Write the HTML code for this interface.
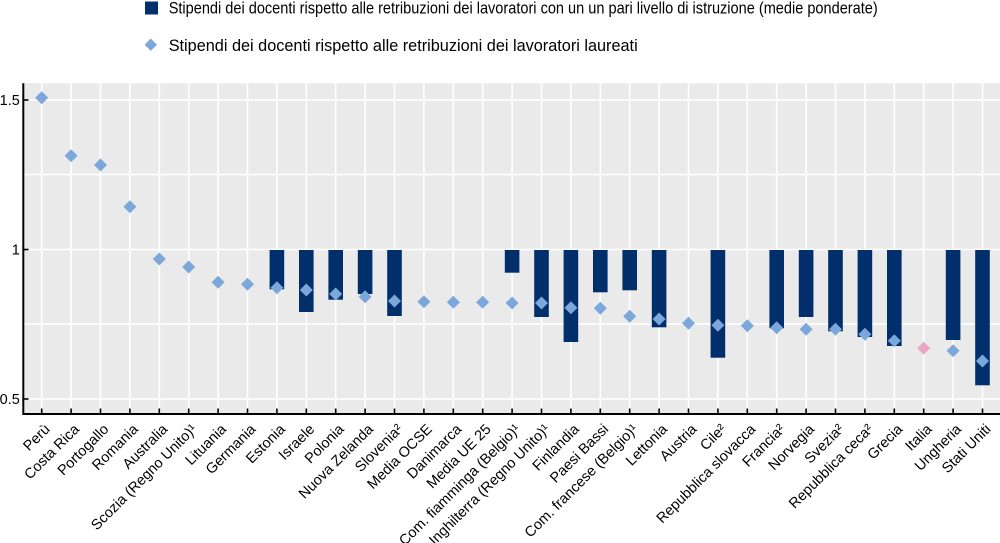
<!DOCTYPE html>
<html>
<head>
<meta charset="utf-8">
<style>
html,body{margin:0;padding:0;background:#fff;}
svg{display:block;}
text{font-family:"Liberation Sans",Arial,sans-serif;fill:#000;}
</style>
</head>
<body>
<svg width="1000" height="543" viewBox="0 0 1000 543" xmlns="http://www.w3.org/2000/svg">
<!-- Legend -->
<rect x="145" y="1.5" width="13" height="13" fill="#002F6C"/>
<text x="168.7" y="13.5" font-size="16.3" textLength="709" lengthAdjust="spacingAndGlyphs">Stipendi dei docenti rispetto alle retribuzioni dei lavoratori con un un pari livello di istruzione (medie ponderate)</text>
<polygon points="150.8,38.5 157,44.7 150.8,50.9 144.6,44.7" fill="#7BA7DB"/>
<text x="168.7" y="51" font-size="16.3" textLength="469" lengthAdjust="spacingAndGlyphs">Stipendi dei docenti rispetto alle retribuzioni dei lavoratori laureati</text>

<!-- Plot background -->
<rect x="24" y="83.3" width="976" height="330" fill="#EAEAEA"/>

<!-- Horizontal gridlines -->
<g stroke="#FFFFFF" stroke-width="1.6">
<line x1="24" y1="100" x2="1000" y2="100"/>
<line x1="24" y1="174.5" x2="1000" y2="174.5"/>
<line x1="24" y1="249.5" x2="1000" y2="249.5"/>
<line x1="24" y1="324" x2="1000" y2="324"/>
<line x1="24" y1="399" x2="1000" y2="399"/>
</g>
<!-- Vertical gridlines -->
<g stroke="#FFFFFF" stroke-width="1.6">
<line x1="41.7" y1="83.3" x2="41.7" y2="413"/>
<line x1="71.1" y1="83.3" x2="71.1" y2="413"/>
<line x1="100.5" y1="83.3" x2="100.5" y2="413"/>
<line x1="129.9" y1="83.3" x2="129.9" y2="413"/>
<line x1="159.3" y1="83.3" x2="159.3" y2="413"/>
<line x1="188.7" y1="83.3" x2="188.7" y2="413"/>
<line x1="218.1" y1="83.3" x2="218.1" y2="413"/>
<line x1="247.5" y1="83.3" x2="247.5" y2="413"/>
<line x1="276.9" y1="83.3" x2="276.9" y2="413"/>
<line x1="306.3" y1="83.3" x2="306.3" y2="413"/>
<line x1="335.7" y1="83.3" x2="335.7" y2="413"/>
<line x1="365.1" y1="83.3" x2="365.1" y2="413"/>
<line x1="394.5" y1="83.3" x2="394.5" y2="413"/>
<line x1="423.9" y1="83.3" x2="423.9" y2="413"/>
<line x1="453.3" y1="83.3" x2="453.3" y2="413"/>
<line x1="482.7" y1="83.3" x2="482.7" y2="413"/>
<line x1="512.1" y1="83.3" x2="512.1" y2="413"/>
<line x1="541.5" y1="83.3" x2="541.5" y2="413"/>
<line x1="570.9" y1="83.3" x2="570.9" y2="413"/>
<line x1="600.3" y1="83.3" x2="600.3" y2="413"/>
<line x1="629.7" y1="83.3" x2="629.7" y2="413"/>
<line x1="659.1" y1="83.3" x2="659.1" y2="413"/>
<line x1="688.5" y1="83.3" x2="688.5" y2="413"/>
<line x1="717.9" y1="83.3" x2="717.9" y2="413"/>
<line x1="747.3" y1="83.3" x2="747.3" y2="413"/>
<line x1="776.7" y1="83.3" x2="776.7" y2="413"/>
<line x1="806.1" y1="83.3" x2="806.1" y2="413"/>
<line x1="835.5" y1="83.3" x2="835.5" y2="413"/>
<line x1="864.9" y1="83.3" x2="864.9" y2="413"/>
<line x1="894.3" y1="83.3" x2="894.3" y2="413"/>
<line x1="923.7" y1="83.3" x2="923.7" y2="413"/>
<line x1="953.1" y1="83.3" x2="953.1" y2="413"/>
<line x1="982.5" y1="83.3" x2="982.5" y2="413"/>
</g>

<!-- Bars -->
<g fill="#002F6C">
<rect x="269.6" y="250" width="14.6" height="39.3"/>
<rect x="299.0" y="250" width="14.6" height="62"/>
<rect x="328.4" y="250" width="14.6" height="49.7"/>
<rect x="357.8" y="250" width="14.6" height="44"/>
<rect x="387.2" y="250" width="14.6" height="66"/>
<rect x="504.8" y="250" width="14.6" height="22.7"/>
<rect x="534.2" y="250" width="14.6" height="67"/>
<rect x="563.6" y="250" width="14.6" height="92"/>
<rect x="593.0" y="250" width="14.6" height="42.3"/>
<rect x="622.4" y="250" width="14.6" height="40.3"/>
<rect x="651.8" y="250" width="14.6" height="77.3"/>
<rect x="710.6" y="250" width="14.6" height="107.7"/>
<rect x="769.4" y="250" width="14.6" height="78.3"/>
<rect x="798.8" y="250" width="14.6" height="67"/>
<rect x="828.2" y="250" width="14.6" height="81.3"/>
<rect x="857.6" y="250" width="14.6" height="87"/>
<rect x="887.0" y="250" width="14.6" height="96"/>
<rect x="945.8" y="250" width="14.6" height="90"/>
<rect x="975.2" y="250" width="14.6" height="135.3"/>
</g>

<!-- Diamonds -->
<g fill="#7BA7DB">
<polygon points="41.7,91.2 48.2,97.7 41.7,104.2 35.2,97.7"/>
<polygon points="71.1,149.2 77.6,155.7 71.1,162.2 64.6,155.7"/>
<polygon points="100.5,158.5 107,165 100.5,171.5 94,165"/>
<polygon points="129.9,200.2 136.4,206.7 129.9,213.2 123.4,206.7"/>
<polygon points="159.3,252.5 165.8,259 159.3,265.5 152.8,259"/>
<polygon points="188.7,260.5 195.2,267 188.7,273.5 182.2,267"/>
<polygon points="218.1,275.8 224.6,282.3 218.1,288.8 211.6,282.3"/>
<polygon points="247.5,277.8 254,284.3 247.5,290.8 241,284.3"/>
<polygon points="276.9,281.2 283.4,287.7 276.9,294.2 270.4,287.7"/>
<polygon points="306.3,283.5 312.8,290 306.3,296.5 299.8,290"/>
<polygon points="335.7,287.5 342.2,294 335.7,300.5 329.2,294"/>
<polygon points="365.1,290.2 371.6,296.7 365.1,303.2 358.6,296.7"/>
<polygon points="394.5,294.5 401,301 394.5,307.5 388,301"/>
<polygon points="423.9,295.2 430.4,301.7 423.9,308.2 417.4,301.7"/>
<polygon points="453.3,295.8 459.8,302.3 453.3,308.8 446.8,302.3"/>
<polygon points="482.7,295.8 489.2,302.3 482.7,308.8 476.2,302.3"/>
<polygon points="512.1,296.5 518.6,303 512.1,309.5 505.6,303"/>
<polygon points="541.5,296.5 548,303 541.5,309.5 535,303"/>
<polygon points="570.9,301.2 577.4,307.7 570.9,314.2 564.4,307.7"/>
<polygon points="600.3,301.7 606.8,308.2 600.3,314.7 593.8,308.2"/>
<polygon points="629.7,309.7 636.2,316.2 629.7,322.7 623.2,316.2"/>
<polygon points="659.1,312.5 665.6,319 659.1,325.5 652.6,319"/>
<polygon points="688.5,316.8 695,323.3 688.5,329.8 682,323.3"/>
<polygon points="717.9,318.8 724.4,325.3 717.9,331.8 711.4,325.3"/>
<polygon points="747.3,319.2 753.8,325.7 747.3,332.2 740.8,325.7"/>
<polygon points="776.7,321.2 783.2,327.7 776.7,334.2 770.2,327.7"/>
<polygon points="806.1,322.8 812.6,329.3 806.1,335.8 799.6,329.3"/>
<polygon points="835.5,322.8 842,329.3 835.5,335.8 829,329.3"/>
<polygon points="864.9,327.8 871.4,334.3 864.9,340.8 858.4,334.3"/>
<polygon points="894.3,334.2 900.8,340.7 894.3,347.2 887.8,340.7"/>
<polygon points="953.1,344.2 959.6,350.7 953.1,357.2 946.6,350.7"/>
<polygon points="982.5,354.5 989,361 982.5,367.5 976,361"/>
</g>
<polygon points="923.7,341.8 930.2,348.3 923.7,354.8 917.2,348.3" fill="#E9A6C9"/>

<!-- Axes -->
<line x1="23.3" y1="83.3" x2="23.3" y2="415" stroke="#000" stroke-width="2"/>
<line x1="22.5" y1="414" x2="1000" y2="414" stroke="#000" stroke-width="2"/>
<g stroke="#000" stroke-width="1.6">
<line x1="23" y1="100" x2="28.5" y2="100"/>
<line x1="23" y1="249.5" x2="28.5" y2="249.5"/>
<line x1="23" y1="399" x2="28.5" y2="399"/>
<line x1="41.7" y1="408.5" x2="41.7" y2="414"/>
<line x1="71.1" y1="408.5" x2="71.1" y2="414"/>
<line x1="100.5" y1="408.5" x2="100.5" y2="414"/>
<line x1="129.9" y1="408.5" x2="129.9" y2="414"/>
<line x1="159.3" y1="408.5" x2="159.3" y2="414"/>
<line x1="188.7" y1="408.5" x2="188.7" y2="414"/>
<line x1="218.1" y1="408.5" x2="218.1" y2="414"/>
<line x1="247.5" y1="408.5" x2="247.5" y2="414"/>
<line x1="276.9" y1="408.5" x2="276.9" y2="414"/>
<line x1="306.3" y1="408.5" x2="306.3" y2="414"/>
<line x1="335.7" y1="408.5" x2="335.7" y2="414"/>
<line x1="365.1" y1="408.5" x2="365.1" y2="414"/>
<line x1="394.5" y1="408.5" x2="394.5" y2="414"/>
<line x1="423.9" y1="408.5" x2="423.9" y2="414"/>
<line x1="453.3" y1="408.5" x2="453.3" y2="414"/>
<line x1="482.7" y1="408.5" x2="482.7" y2="414"/>
<line x1="512.1" y1="408.5" x2="512.1" y2="414"/>
<line x1="541.5" y1="408.5" x2="541.5" y2="414"/>
<line x1="570.9" y1="408.5" x2="570.9" y2="414"/>
<line x1="600.3" y1="408.5" x2="600.3" y2="414"/>
<line x1="629.7" y1="408.5" x2="629.7" y2="414"/>
<line x1="659.1" y1="408.5" x2="659.1" y2="414"/>
<line x1="688.5" y1="408.5" x2="688.5" y2="414"/>
<line x1="717.9" y1="408.5" x2="717.9" y2="414"/>
<line x1="747.3" y1="408.5" x2="747.3" y2="414"/>
<line x1="776.7" y1="408.5" x2="776.7" y2="414"/>
<line x1="806.1" y1="408.5" x2="806.1" y2="414"/>
<line x1="835.5" y1="408.5" x2="835.5" y2="414"/>
<line x1="864.9" y1="408.5" x2="864.9" y2="414"/>
<line x1="894.3" y1="408.5" x2="894.3" y2="414"/>
<line x1="923.7" y1="408.5" x2="923.7" y2="414"/>
<line x1="953.1" y1="408.5" x2="953.1" y2="414"/>
<line x1="982.5" y1="408.5" x2="982.5" y2="414"/>
</g>

<!-- Y labels -->
<g font-size="14.5" text-anchor="end">
<text x="19.8" y="105.2">1.5</text>
<text x="19.8" y="254.7">1</text>
<text x="19.8" y="404.2">0.5</text>
</g>

<!-- X labels -->
<g font-size="14.5" text-anchor="end">
<text transform="translate(50.7,430) rotate(-45)">Perù</text>
<text transform="translate(80.1,430) rotate(-45)">Costa Rica</text>
<text transform="translate(109.5,430) rotate(-45)">Portogallo</text>
<text transform="translate(138.9,430) rotate(-45)">Romania</text>
<text transform="translate(168.3,430) rotate(-45)">Australia</text>
<text transform="translate(197.7,430) rotate(-45)">Scozia (Regno Unito)¹</text>
<text transform="translate(227.1,430) rotate(-45)">Lituania</text>
<text transform="translate(256.5,430) rotate(-45)">Germania</text>
<text transform="translate(285.9,430) rotate(-45)">Estonia</text>
<text transform="translate(315.3,430) rotate(-45)">Israele</text>
<text transform="translate(344.7,430) rotate(-45)">Polonia</text>
<text transform="translate(374.1,430) rotate(-45)">Nuova Zelanda</text>
<text transform="translate(403.5,430) rotate(-45)">Slovenia²</text>
<text transform="translate(432.9,430) rotate(-45)">Media OCSE</text>
<text transform="translate(462.3,430) rotate(-45)">Danimarca</text>
<text transform="translate(491.7,430) rotate(-45)">Media UE 25</text>
<text transform="translate(521.1,430) rotate(-45)">Com. fiamminga (Belgio)¹</text>
<text transform="translate(550.5,430) rotate(-45)">Inghilterra (Regno Unito)¹</text>
<text transform="translate(579.9,430) rotate(-45)">Finlandia</text>
<text transform="translate(609.3,430) rotate(-45)">Paesi Bassi</text>
<text transform="translate(638.7,430) rotate(-45)">Com. francese (Belgio)¹</text>
<text transform="translate(668.1,430) rotate(-45)">Lettonia</text>
<text transform="translate(697.5,430) rotate(-45)">Austria</text>
<text transform="translate(726.9,430) rotate(-45)">Cile²</text>
<text transform="translate(756.3,430) rotate(-45)">Repubblica slovacca</text>
<text transform="translate(785.7,430) rotate(-45)">Francia²</text>
<text transform="translate(815.1,430) rotate(-45)">Norvegia</text>
<text transform="translate(844.5,430) rotate(-45)">Svezia²</text>
<text transform="translate(873.9,430) rotate(-45)">Repubblica ceca²</text>
<text transform="translate(903.3,430) rotate(-45)">Grecia</text>
<text transform="translate(932.7,430) rotate(-45)">Italia</text>
<text transform="translate(962.1,430) rotate(-45)">Ungheria</text>
<text transform="translate(991.5,430) rotate(-45)">Stati Uniti</text>
</g>
</svg>
</body>
</html>
